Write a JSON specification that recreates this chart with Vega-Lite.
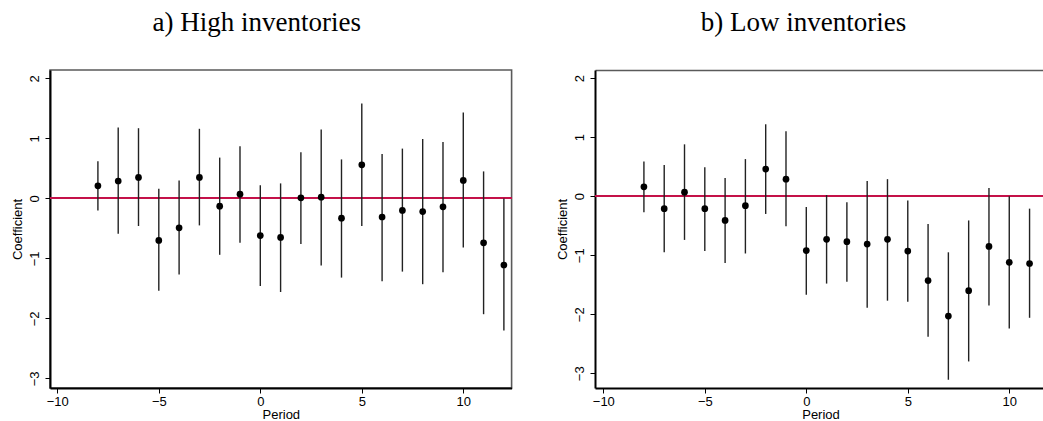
{
  "$schema": "https://vega.github.io/schema/vega-lite/v6.json",
  "padding": {"left": 10, "top": 8, "right": 0, "bottom": 0},
  "spacing": 42,
  "config": {
    "font": "Liberation Sans",
    "view": {"stroke": "#5a5a5a", "strokeWidth": 1.6},
    "axis": {"grid": false, "labelFont": "Liberation Sans", "titleFont": "Liberation Sans", "labelFontSize": 13, "titleFontSize": 13, "titleFontWeight": "normal", "labelColor": "#000", "titleColor": "#000", "domainColor": "#000", "domainWidth": 2, "tickColor": "#000", "tickSize": 5, "tickWidth": 1, "format": "d"},
    "axisY": {"labelAngle": -90, "labelPadding": 4, "minExtent": 23, "maxExtent": 23, "titlePadding": 3},
    "axisX": {"labelPadding": 2, "titlePadding": 0, "labelFlush": false},
    "title": {"font": "Liberation Serif", "fontSize": 27, "fontWeight": "normal", "color": "#000", "baseline": "alphabetic", "frame": "group", "anchor": "middle", "offset": 33}
  },
  "datasets": {
    "high": [
      {"period": -8, "coef": 0.21, "hi": 0.62, "lo": -0.20},
      {"period": -7, "coef": 0.29, "hi": 1.18, "lo": -0.59},
      {"period": -6, "coef": 0.35, "hi": 1.17, "lo": -0.46},
      {"period": -5, "coef": -0.70, "hi": 0.16, "lo": -1.54},
      {"period": -4, "coef": -0.49, "hi": 0.30, "lo": -1.27},
      {"period": -3, "coef": 0.35, "hi": 1.16, "lo": -0.45},
      {"period": -2, "coef": -0.13, "hi": 0.68, "lo": -0.94},
      {"period": -1, "coef": 0.07, "hi": 0.87, "lo": -0.74},
      {"period": 0, "coef": -0.62, "hi": 0.22, "lo": -1.46},
      {"period": 1, "coef": -0.65, "hi": 0.25, "lo": -1.56},
      {"period": 2, "coef": 0.01, "hi": 0.77, "lo": -0.76},
      {"period": 3, "coef": 0.02, "hi": 1.15, "lo": -1.12},
      {"period": 4, "coef": -0.33, "hi": 0.65, "lo": -1.32},
      {"period": 5, "coef": 0.56, "hi": 1.58, "lo": -0.46},
      {"period": 6, "coef": -0.31, "hi": 0.74, "lo": -1.38},
      {"period": 7, "coef": -0.20, "hi": 0.83, "lo": -1.22},
      {"period": 8, "coef": -0.22, "hi": 0.99, "lo": -1.43},
      {"period": 9, "coef": -0.14, "hi": 0.94, "lo": -1.23},
      {"period": 10, "coef": 0.30, "hi": 1.43, "lo": -0.82},
      {"period": 11, "coef": -0.74, "hi": 0.45, "lo": -1.93},
      {"period": 12, "coef": -1.11, "hi": 0.00, "lo": -2.20}
    ],
    "low": [
      {"period": -8, "coef": 0.16, "hi": 0.59, "lo": -0.27},
      {"period": -7, "coef": -0.21, "hi": 0.53, "lo": -0.95},
      {"period": -6, "coef": 0.07, "hi": 0.88, "lo": -0.74},
      {"period": -5, "coef": -0.21, "hi": 0.49, "lo": -0.93},
      {"period": -4, "coef": -0.41, "hi": 0.31, "lo": -1.13},
      {"period": -3, "coef": -0.16, "hi": 0.63, "lo": -0.97},
      {"period": -2, "coef": 0.46, "hi": 1.22, "lo": -0.30},
      {"period": -1, "coef": 0.29, "hi": 1.10, "lo": -0.51},
      {"period": 0, "coef": -0.92, "hi": -0.18, "lo": -1.67},
      {"period": 1, "coef": -0.73, "hi": 0.02, "lo": -1.48},
      {"period": 2, "coef": -0.77, "hi": -0.10, "lo": -1.45},
      {"period": 3, "coef": -0.81, "hi": 0.26, "lo": -1.89},
      {"period": 4, "coef": -0.73, "hi": 0.29, "lo": -1.77},
      {"period": 5, "coef": -0.93, "hi": -0.07, "lo": -1.79},
      {"period": 6, "coef": -1.43, "hi": -0.47, "lo": -2.38},
      {"period": 7, "coef": -2.03, "hi": -0.95, "lo": -3.11},
      {"period": 8, "coef": -1.60, "hi": -0.41, "lo": -2.80},
      {"period": 9, "coef": -0.85, "hi": 0.14, "lo": -1.85},
      {"period": 10, "coef": -1.12, "hi": 0.00, "lo": -2.24},
      {"period": 11, "coef": -1.14, "hi": -0.21, "lo": -2.06},
      {"period": 12, "coef": -0.96, "hi": -0.05, "lo": -1.87}
    ]
  },
  "hconcat": [
    {
      "title": {"text": "a) High inventories", "dx": -24},
      "width": 461.6,
      "height": 318,
      "data": {"name": "high"},
      "layer": [
        {
          "mark": {"type": "rule", "color": "#c4124a", "strokeWidth": 1.2},
          "encoding": {"y": {"datum": 0, "type": "quantitative", "scale": {"domain": [-3.16, 2.14], "nice": false, "zero": false}, "axis": {"title": "Coefficient", "values": [-3, -2, -1, 0, 1, 2]}}}
        },
        {
          "mark": {"type": "rule", "color": "#222", "strokeWidth": 1.4},
          "encoding": {
            "x": {"field": "period", "type": "quantitative", "scale": {"domain": [-10.36, 12.38], "nice": false, "zero": false}, "axis": {"title": "Period", "values": [-10, -5, 0, 5, 10]}},
            "y": {"field": "lo", "type": "quantitative", "axis": {"title": "Coefficient"}},
            "y2": {"field": "hi"}
          }
        },
        {
          "mark": {"type": "point", "filled": true, "opacity": 1, "color": "#000", "size": 45},
          "encoding": {
            "x": {"field": "period", "type": "quantitative"},
            "y": {"field": "coef", "type": "quantitative", "axis": {"title": "Coefficient"}}
          }
        }
      ]
    },
    {
      "title": {"text": "b) Low inventories", "dx": -17},
      "width": 451,
      "height": 318,
      "view": {"stroke": null},
      "data": {"name": "low"},
      "resolve": {"axis": {"x": "independent"}},
      "layer": [
        {
          "mark": {"type": "rule", "color": "#c4124a", "strokeWidth": 1.2, "clip": true},
          "encoding": {"y": {"datum": 0, "type": "quantitative", "scale": {"domain": [-3.25, 2.14], "nice": false, "zero": false}, "axis": {"title": "Coefficient", "values": [-3, -2, -1, 0, 1, 2]}}}
        },
        {
          "mark": {"type": "rule", "color": "#222", "strokeWidth": 1.4, "clip": true},
          "encoding": {
            "x": {"field": "period", "type": "quantitative", "scale": {"domain": [-10.41, 11.81], "nice": false, "zero": false}, "axis": {"title": "Period", "values": [-10, -5, 0, 5, 10]}},
            "y": {"field": "lo", "type": "quantitative", "axis": {"title": "Coefficient"}},
            "y2": {"field": "hi"}
          }
        },
        {
          "mark": {"type": "point", "filled": true, "opacity": 1, "color": "#000", "size": 45, "clip": true},
          "encoding": {
            "x": {"field": "period", "type": "quantitative", "axis": {"orient": "top", "title": null, "labels": false, "ticks": false, "domainColor": "#5a5a5a", "domainWidth": 1.6}},
            "y": {"field": "coef", "type": "quantitative", "axis": {"title": "Coefficient"}}
          }
        }
      ]
    }
  ]
}
